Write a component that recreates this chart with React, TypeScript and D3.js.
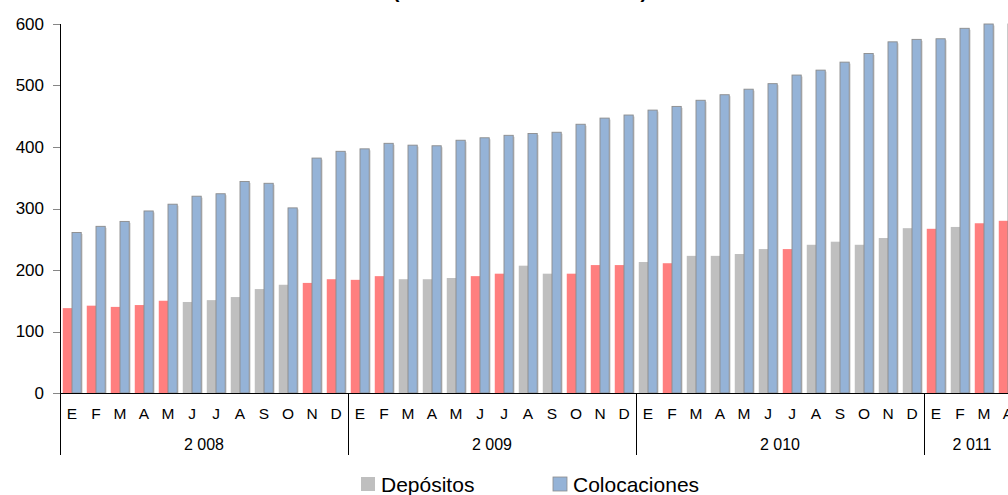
import React from "react";
import * as d3 from "d3";

const monthLabels = ["E","F","M","A","M","J","J","A","S","O","N","D","E","F","M","A","M","J","J","A","S","O","N","D","E","F","M","A","M","J","J","A","S","O","N","D","E","F","M","A"];
const years = ["2 008", "2 009", "2 010", "2 011"];
const yearCounts = [12, 12, 12, 4];

const depositos = [138, 142, 140, 143, 150, 148, 151, 156, 169, 176, 179, 185,
  184, 190, 185, 185, 187, 190, 194, 207, 194, 194, 208, 208,
  213, 211, 223, 223, 226, 234, 234, 241, 246, 241, 252, 268,
  267, 270, 276, 280];
const highlighted = [1,1,1,1,1,0,0,0,0,0,1,1,
  1,1,0,0,0,1,1,0,0,1,1,1,
  0,1,0,0,0,0,1,0,0,0,0,0,
  1,0,1,1];
const colocaciones = [261, 271, 279, 296, 307, 320, 324, 344, 341, 301, 382, 393,
  397, 406, 403, 402, 411, 415, 419, 422, 424, 437, 447, 452,
  460, 466, 476, 485, 494, 503, 517, 525, 538, 552, 571, 575,
  576, 593, 600, 606];
const yTicks = [0, 100, 200, 300, 400, 500, 600];

const FONT = "'Liberation Sans', Arial, sans-serif";
const GRAY = "#BFBFBF";
const RED = "#FF7F7F";
const BLUE = "#95B3D7";

export default function App() {
  const W = 1008, H = 495;
  const x0 = 60, step = 24;
  const x = d3.scaleBand<number>().domain(d3.range(monthLabels.length)).range([x0, x0 + step * monthLabels.length]).padding(0);
  const inner = d3.scaleBand<string>().domain(["dep", "col"]).range([0, x.bandwidth()]).paddingInner(0).paddingOuter(0.3);
  const y = d3.scaleLinear().domain([0, 600]).range([393, 24]);
  const y0 = y(0);

  let acc = 0;
  const yearBounds = yearCounts.map((c, i) => {
    const start = acc;
    acc += c;
    return { label: years[i], start, end: acc };
  });

  return (
    <svg width={W} height={H} style={{ position: "absolute", left: 0, top: 0, background: "#fff" }} fontFamily={FONT}>
      <text x={520} y={-2} textAnchor="middle" fontSize={20} fontWeight="bold" fill="#000">(Millones de nuevos soles)</text>
      {/* bars */}
      {monthLabels.map((_, i) => {
        const bx = x(i)!;
        const dx = bx + inner("dep")!;
        const cx = bx + inner("col")!;
        const bw = inner.bandwidth();
        const dTop = y(Math.min(depositos[i], 600));
        const cTop = y(Math.min(colocaciones[i], 600));
        return (
          <g key={i}>
            <rect x={dx} y={dTop} width={bw} height={y0 - dTop} fill={highlighted[i] ? RED : GRAY} />
            <rect x={cx + 1.5} y={cTop + 1.5} width={bw} height={y0 - cTop - 1.5} fill="#D9D9D9" />
            <rect x={cx} y={cTop} width={bw} height={y0 - cTop} fill={BLUE} stroke="#8C8C8C" strokeWidth={0.9} />
          </g>
        );
      })}
      {/* y axis */}
      <line x1={60.5} x2={60.5} y1={24} y2={455} stroke="#000" strokeWidth={1} />
      {yTicks.map((t) => (
        <g key={t}>
          <line x1={53} x2={60} y1={Math.round(y(t)) + 0.5} y2={Math.round(y(t)) + 0.5} stroke="#868686" strokeWidth={1} />
          <text x={44} y={y(t)} dy="0.35em" textAnchor="end" fontSize={17} fill="#000">{t}</text>
        </g>
      ))}
      {/* x axis */}
      <line x1={60} x2={W} y1={y0 + 0.5} y2={y0 + 0.5} stroke="#000" strokeWidth={1} />
      {monthLabels.map((m, i) => (
        <text key={"m" + i} x={x(i)! + step / 2} y={419} textAnchor="middle" fontSize={15.5} fill="#000">{m}</text>
      ))}
      {yearBounds.map((yb) => (
        <g key={yb.label}>
          <line x1={x(yb.end - 1)! + step + 0.5} x2={x(yb.end - 1)! + step + 0.5} y1={y0} y2={455} stroke="#000" strokeWidth={1} />
          <text x={(x(yb.start)! + x(yb.end - 1)! + step) / 2} y={450} textAnchor="middle" fontSize={16} fill="#000">{yb.label}</text>
        </g>
      ))}
      {/* legend */}
      <rect x={361} y={477} width={14} height={14} fill={GRAY} />
      <text x={381} y={491.5} fontSize={21} fill="#000">Depósitos</text>
      <rect x={553} y={477} width={14} height={14} fill={BLUE} stroke="#8C8C8C" strokeWidth={0.8} />
      <text x={573} y={491.5} fontSize={21} fill="#000">Colocaciones</text>
    </svg>
  );
}
